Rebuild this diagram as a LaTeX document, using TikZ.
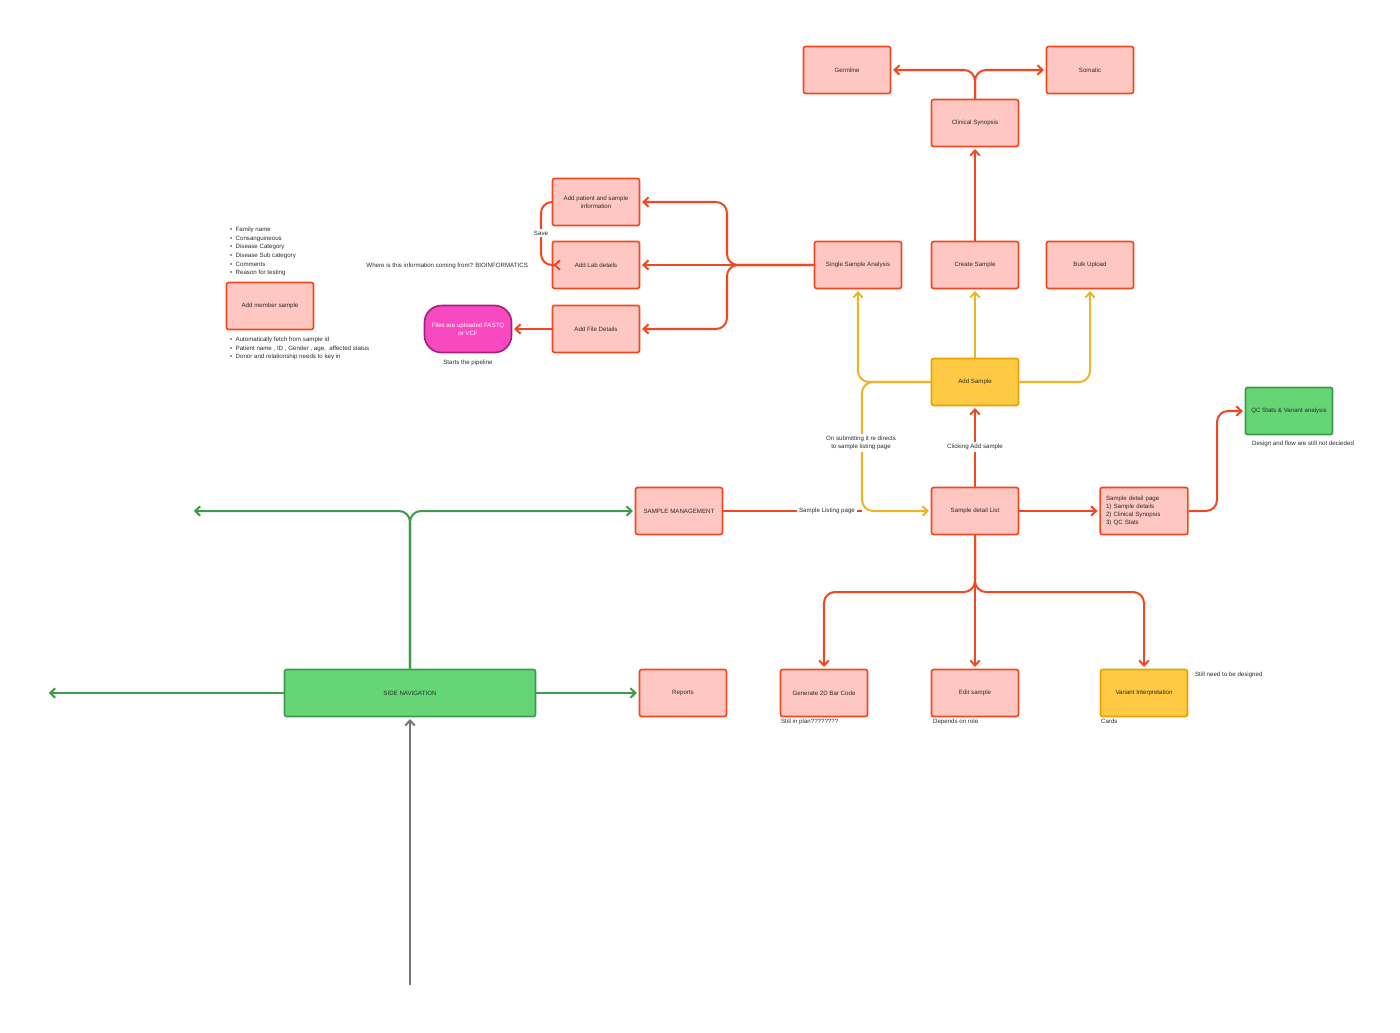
\documentclass[tikz,border=0pt]{standalone}
\usepackage{fontspec}
\setmainfont{Liberation Sans}
\usetikzlibrary{arrows.meta}

\definecolor{flowred}{HTML}{F24822}
\definecolor{boxpink}{HTML}{FFC7C2}
\definecolor{flowyel}{HTML}{EDB526}
\definecolor{boxyel}{HTML}{FFC943}
\definecolor{yelrim}{HTML}{E8A302}
\definecolor{flowgrn}{HTML}{3E9B4B}
\definecolor{boxgrn}{HTML}{66D575}
\definecolor{boxmag}{HTML}{F849C1}
\definecolor{magrim}{HTML}{A1237D}
\definecolor{flowgray}{HTML}{757575}
\definecolor{txtgray}{HTML}{2B2B2B}

\newcommand{\smallfont}{\fontsize{3.5}{4.6}\selectfont}
\newcommand{\listfont}{\fontsize{3.5}{4.95}\selectfont}

\tikzset{
    box/.style={draw=flowred, fill=boxpink, line width=0.95pt, rounded corners=1.2pt,
        minimum width=1.74cm, minimum height=0.94cm, align=center, text=txtgray, font=\smallfont},
    yelbox/.style={box, draw=yelrim, fill=boxyel},
    grnbox/.style={box, draw=flowgrn, fill=boxgrn},
    note/.style={text=txtgray, font=\smallfont, align=center, inner sep=1pt},
    tag/.style={note, fill=white},
    barb/.style={-{Straight Barb[length=1mm,width=1.9mm]}, shorten >=1pt},
    redline/.style={draw=flowred, line width=1.15pt, rounded corners=0.22cm},
    redarrow/.style={redline, barb},
    yelarrow/.style={redarrow, draw=flowyel},
    grnarrow/.style={redarrow, draw=flowgrn},
    grayarrow/.style={redarrow, draw=flowgray}
}

\begin{document}
\begin{tikzpicture}[x=0.02cm, y=-0.02cm]

    \useasboundingbox (0,0) rectangle (1400,1032);

    % Clinical Synopsis (CS)
    \node [box] (germline) at (847,70) {Germline};
    \node [box] (somatic) at (1090,70) {Somatic};
    \node [box] (clinsyn) at (975,123) {Clinical Synopsis};

    % Sample options
    \node [box] (single) at (858,265) {Single Sample Analysis};
    \node [box] (create) at (975,265) {Create Sample};
    \node [box] (bulk) at (1090,265) {Bulk Upload};
    \node [yelbox] (addsample) at (975,382) {Add Sample};

    % Single Sample Analysis steps
    \node [box] (addpatient) at (596,202) {Add patient and sample\\information};
    \node [box] (addlab) at (596,265) {Add Lab details};
    \node [box] (addfile) at (596,329) {Add File Details};
    \node [box, draw=magrim, fill=boxmag, text=white, rounded corners=0.34cm] (upload) at (468,329) {Files are uploaded FASTQ\\or VCF};
    \node [note] (pipeline) at (468,363) {Starts the pipeline};
    \node [note, anchor=east] (bioinfo) at (530,266) {Where is this information coming from? BIOINFORMATICS};

    % Add member sample (AMS)
    \node [box] (member) at (270,306) {Add member sample};
    \node [note, align=left, anchor=west, font=\listfont] (memtop) at (228,251.5)
        {\textbullet\ \ Family name\\\textbullet\ \ Consanguineous\\\textbullet\ \ Disease Category\\
         \textbullet\ \ Disease Sub category\\\textbullet\ \ Comments\\\textbullet\ \ Reason for testing};
    \node [note, align=left, anchor=north west, font=\listfont] (membottom) at (228,335)
        {\textbullet\ \ Automatically fetch from sample id\\
         \textbullet\ \ Patient name , ID , Gender , age,\ \ affected status\\
         \textbullet\ \ Donor and relationship needs to key in};

    % Sample management (SM)
    \node [box] (sampman) at (679,511) {SAMPLE MANAGEMENT};
    \node [box] (detaillist) at (975,511) {Sample detail List};
    \node [box, text width=1.52cm, align=left] (detailpage) at (1144,511)
        {Sample detail page\\1) Sample details\\2) Clinical Synopsis\\3) QC Stats};
    \node [grnbox] (qcstats) at (1289,411) {QC Stats \& Variant analysis};
    \node [note] (qcnote) at (1303,444) {Design and flow are still not decieded};

    % Sample detail List children
    \node [box] (barcode) at (824,693) {Generate 2D Bar Code};
    \node [box] (editsample) at (975,693) {Edit sample};
    \node [yelbox] (variant) at (1144,693) {Variant Interpretation};
    \node [note, anchor=north west] (plannote) at (779,717) {Still in plan????????};
    \node [note, anchor=north west] (rolenote) at (931,717) {Depends on role.};
    \node [note, anchor=north west] (cardnote) at (1099,717) {Cards};
    \node [note, anchor=west] (designnote) at (1193,675) {Still need to be designed};

    % Side navigation (SN)
    \node [grnbox, minimum width=5.02cm] (sidenav) at (410,693) {SIDE NAVIGATION};
    \node [box] (reports) at (683,693) {Reports};
    \coordinate (navleft) at (47,693);
    \coordinate (navup) at (192,511);
    \coordinate (navstart) at (410,985);

    % red connectors
    \draw [redarrow] (clinsyn.north) |- (germline.east);
    \draw [redarrow] (clinsyn.north) |- (somatic.west);
    \draw [redarrow] (create.north) -- (clinsyn.south);
    \draw [redarrow] (single.west) -| (727,202) -- (addpatient.east);
    \draw [redarrow] (single.west) -- (addlab.east);
    \draw [redarrow] (single.west) -| (727,329) -- (addfile.east);
    \draw [redarrow] (addfile.west) -- (upload.east);
    \draw [redarrow] (addpatient.west) -| (541,265) -- (addlab.west);
    \node [tag] (save) at (541,233) {Save};
    \draw [redline] (sampman.east) -- (862,511);
    \node [tag] (listing) at (827,511) {Sample Listing page};
    \draw [redarrow] (detaillist.north) -- (addsample.south);
    \node [tag] (clicking) at (975,447) {Clicking Add sample};
    \draw [redarrow] (detaillist.east) -- (detailpage.west);
    \draw [redarrow] (detailpage.east) -| (1217,411) -- (qcstats.west);
    \draw [redarrow] (detaillist.south) -- (975,592) -| (barcode.north);
    \draw [redarrow] (detaillist.south) -- (editsample.north);
    \draw [redarrow] (detaillist.south) -- (975,592) -| (variant.north);

    % yellow connectors
    \draw [yelarrow] (addsample.west) -| (single.south);
    \draw [yelarrow] (addsample.north) -- (create.south);
    \draw [yelarrow] (addsample.east) -| (bulk.south);
    \draw [yelarrow] (addsample.west) -| (862,511) -- (detaillist.west);
    \node [tag] (submitting) at (861,443) {On submitting it re directs\\to sample listing page};

    % green connectors
    \draw [grnarrow] (sidenav.north) |- (navup);
    \draw [grnarrow] (sidenav.north) |- (sampman.west);
    \draw [grnarrow] (sidenav.west) -- (navleft);
    \draw [grnarrow] (sidenav.east) -- (reports.west);
    \draw [grayarrow] (navstart) -- (sidenav.south);

\end{tikzpicture}
\end{document}
